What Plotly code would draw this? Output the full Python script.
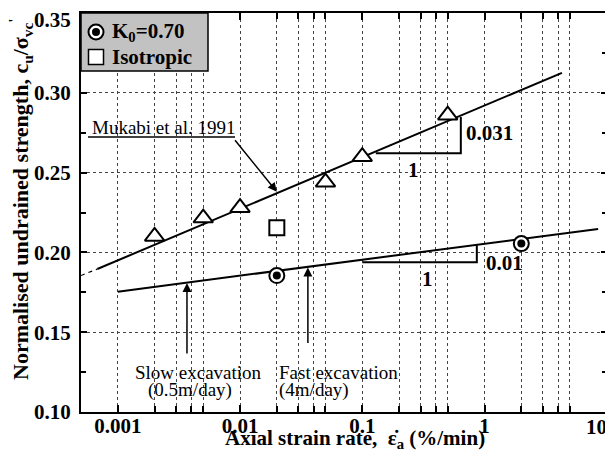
import math
import plotly.graph_objects as go

# ---------------- data ----------------
tri_x = [0.002, 0.005, 0.01, 0.05, 0.1, 0.5]
tri_y = [0.210, 0.2215, 0.228, 0.244, 0.260, 0.286]
iso_x = [0.02]
iso_y = [0.2155]
k0_x = [0.02, 2.0]
k0_y = [0.1855, 0.2055]

muk_x = [0.00068, 4.3]
muk_y = [0.1896, 0.3125]
muk_ext_x = [0.0005, 0.00068]
muk_ext_y = [0.1855, 0.1896]
k0line_x = [0.001, 8.5]
k0line_y = [0.1754, 0.2147]

slope_m_x = [0.129, 0.64, 0.64]
slope_m_y = [0.2621, 0.2621, 0.2848]
slope_k_x = [0.1, 0.865, 0.865]
slope_k_y = [0.1938, 0.1938, 0.2045]

x_major = [0.001, 0.01, 0.1, 1, 10]
x_major_text = ["0.001", "0.01", "0.1", "1", "10"]
x_minor = [m * d for d in [0.001, 0.01, 0.1, 1] for m in [2, 3, 4, 5]]
y_major = [0.10, 0.15, 0.20, 0.25, 0.30, 0.35]
y_major_text = ["%.2f" % v for v in y_major]

FONT = "'Liberation Serif', 'Times New Roman', Times, serif"
BLACK = "black"

fig = go.Figure()

# fitted lines
fig.add_trace(go.Scatter(x=muk_ext_x, y=muk_ext_y, mode="lines",
                         line=dict(color=BLACK, width=1.2, dash="4px,4px"), showlegend=False))
fig.add_trace(go.Scatter(x=muk_x, y=muk_y, mode="lines",
                         line=dict(color=BLACK, width=2), showlegend=False))
fig.add_trace(go.Scatter(x=k0line_x, y=k0line_y, mode="lines",
                         line=dict(color=BLACK, width=2), showlegend=False))
# slope triangles
fig.add_trace(go.Scatter(x=slope_m_x, y=slope_m_y, mode="lines",
                         line=dict(color=BLACK, width=2), showlegend=False))
fig.add_trace(go.Scatter(x=slope_k_x, y=slope_k_y, mode="lines",
                         line=dict(color=BLACK, width=2), showlegend=False))

# markers
fig.add_trace(go.Scatter(x=tri_x, y=tri_y, mode="markers", showlegend=False,
                         marker=dict(symbol="triangle-up", size=17, color="white",
                                     line=dict(color=BLACK, width=2))))
fig.add_trace(go.Scatter(x=iso_x, y=iso_y, mode="markers", showlegend=False,
                         marker=dict(symbol="square", size=15, color="white",
                                     line=dict(color=BLACK, width=2))))
fig.add_trace(go.Scatter(x=k0_x, y=k0_y, mode="markers", showlegend=False,
                         marker=dict(symbol="circle", size=15, color="white",
                                     line=dict(color=BLACK, width=2))))
fig.add_trace(go.Scatter(x=k0_x, y=k0_y, mode="markers", showlegend=False,
                         marker=dict(symbol="circle", size=8, color=BLACK,
                                     line=dict(width=0))))

tickfont = dict(family=FONT, size=21, color=BLACK, weight="bold")
GRIDC = "#444"

# the edge labels ("10" and "0.35") are drawn as annotations so they are not clipped
x_tick_text_axis = [t if t != "10" else "" for t in x_major_text]
y_tick_text_axis = [t if t != "0.35" else "" for t in y_major_text]

fig.update_xaxes(
    type="log", range=[math.log10(0.0005), 1.002], automargin=False,
    tickmode="array", tickvals=x_major, ticktext=x_tick_text_axis,
    ticks="inside", ticklen=7, tickwidth=1.5, tickcolor=BLACK,
    ticklabeloverflow="allow", ticklabelstandoff=-6,
    showline=True, linecolor=BLACK, linewidth=2, mirror="ticks",
    showgrid=True, gridcolor=GRIDC, griddash="dot", gridwidth=1,
    tickfont=tickfont, zeroline=False,
    minor=dict(tickmode="array", tickvals=x_minor, ticks="inside", ticklen=6,
               tickwidth=1.5, tickcolor=BLACK, showgrid=True, gridcolor=GRIDC,
               griddash="dot", gridwidth=1),
)
fig.update_yaxes(
    range=[0.10, 0.35], automargin=False, tickmode="array", tickvals=y_major,
    ticktext=y_tick_text_axis, ticklabeloverflow="allow", ticklabelstandoff=4,
    ticks="inside", ticklen=6, tickwidth=1.5, tickcolor=BLACK,
    showline=True, linecolor=BLACK, linewidth=2, mirror="ticks",
    showgrid=True, gridcolor=GRIDC, griddash="dot", gridwidth=1,
    tickfont=tickfont, zeroline=False,
    minor=dict(dtick=0.025, tick0=0.1, ticks="inside", ticklen=5, tickwidth=1.5,
               tickcolor=BLACK, showgrid=False),
)

# plot area in page pixels: x 81..607, y 13..412 (page has 8px body margin)
def px_x(p):
    return (p - 81) / 526.0


def px_y(p):
    return (412 - p) / 399.0


shapes = []
# legend box
shapes.append(dict(type="rect", xref="paper", yref="paper", x0=0, x1=px_x(208),
                   y0=px_y(71), y1=1, fillcolor="#c2c2c2",
                   line=dict(color=BLACK, width=1.5), layer="above"))
# legend markers
shapes.append(dict(type="circle", xref="paper", yref="paper", xsizemode="pixel",
                   ysizemode="pixel", xanchor=px_x(96), yanchor=px_y(32),
                   x0=-7.5, x1=7.5, y0=-7.5, y1=7.5, fillcolor="white",
                   line=dict(color=BLACK, width=2), layer="above"))
shapes.append(dict(type="circle", xref="paper", yref="paper", xsizemode="pixel",
                   ysizemode="pixel", xanchor=px_x(96), yanchor=px_y(32),
                   x0=-4, x1=4, y0=-4, y1=4, fillcolor=BLACK,
                   line=dict(color=BLACK, width=0), layer="above"))
shapes.append(dict(type="rect", xref="paper", yref="paper", xsizemode="pixel",
                   ysizemode="pixel", xanchor=px_x(96), yanchor=px_y(57),
                   x0=-7.5, x1=7.5, y0=-7.5, y1=7.5, fillcolor="white",
                   line=dict(color=BLACK, width=1.5), layer="above"))
# underline for Mukabi label
shapes.append(dict(type="line", xref="paper", yref="paper", x0=px_x(88), x1=px_x(235),
                   y0=px_y(137), y1=px_y(137), line=dict(color=BLACK, width=1.5)))

ann = []


def txt(text, x, y, size=19, bold=False, xanchor="center"):
    ann.append(dict(text=text, x=x, y=y, xref="paper", yref="paper", showarrow=False,
                    xanchor=xanchor, yanchor="middle",
                    font=dict(family=FONT, size=size, color=BLACK,
                              weight="bold" if bold else "normal")))


# edge tick labels
txt(x_major_text[-1], px_x(609), px_y(427), size=21, bold=True, xanchor="right")
txt(y_major_text[-1], px_x(73), px_y(20), size=21, bold=True, xanchor="right")

txt("K<sub>0</sub>=0.70", px_x(110), px_y(32), size=21, bold=True, xanchor="left")
txt("Isotropic", px_x(110), px_y(57), size=21, bold=True, xanchor="left")
txt("Mukabi et al. 1991", px_x(90), px_y(127), size=19, xanchor="left")
txt("0.031", px_x(464), px_y(133), size=21, bold=True, xanchor="left")
txt("1", px_x(413), px_y(170), size=21, bold=True)
txt("0.01", px_x(484), px_y(263), size=21, bold=True, xanchor="left")
txt("1", px_x(427), px_y(279), size=21, bold=True)
txt("Slow excavation", px_x(198), px_y(372), size=19)
txt("(0.5m/day)", px_x(190), px_y(390), size=19)
txt("Fast excavation", px_x(277), px_y(372), size=19, xanchor="left")
txt("(4m/day)", px_x(277), px_y(390), size=19, xanchor="left")

# axis titles
txt("Axial strain rate,  ε\u0307<sub>a</sub> (%/min)", px_x(355), px_y(439), size=21, bold=True)
ann.append(dict(text="Normalised undrained strength, c<sub>u</sub>/σ<sub>vc</sub><sup>'</sup>",
                x=px_x(20), y=px_y(199), xref="paper", yref="paper", showarrow=False,
                textangle=-90, xanchor="center", yanchor="middle",
                font=dict(family=FONT, size=22, color=BLACK, weight="bold")))

# arrows
ann.append(dict(text="", x=math.log10(0.02), y=0.238, xref="x", yref="y",
                ax=-43, ay=-53, axref="pixel", ayref="pixel", showarrow=True,
                arrowhead=2, arrowsize=1.2, arrowwidth=1.5, arrowcolor=BLACK))
ann.append(dict(text="", x=math.log10(0.00368), y=0.1808, xref="x", yref="y",
                ax=0, ay=72, showarrow=True,
                arrowhead=2, arrowsize=1.2, arrowwidth=1.5, arrowcolor=BLACK))
ann.append(dict(text="", x=math.log10(0.0359), y=0.1906, xref="x", yref="y",
                ax=0, ay=77, showarrow=True,
                arrowhead=2, arrowsize=1.2, arrowwidth=1.5, arrowcolor=BLACK))

# figure is 605x451 because the page body adds an 8px offset
fig.update_layout(
    width=605, height=451,
    margin=dict(l=73, r=6, t=5, b=47, autoexpand=False),
    plot_bgcolor="white", paper_bgcolor="white",
    shapes=shapes, annotations=ann, showlegend=False,
    font=dict(family=FONT, color=BLACK),
)

fig.write_html("out.html")
